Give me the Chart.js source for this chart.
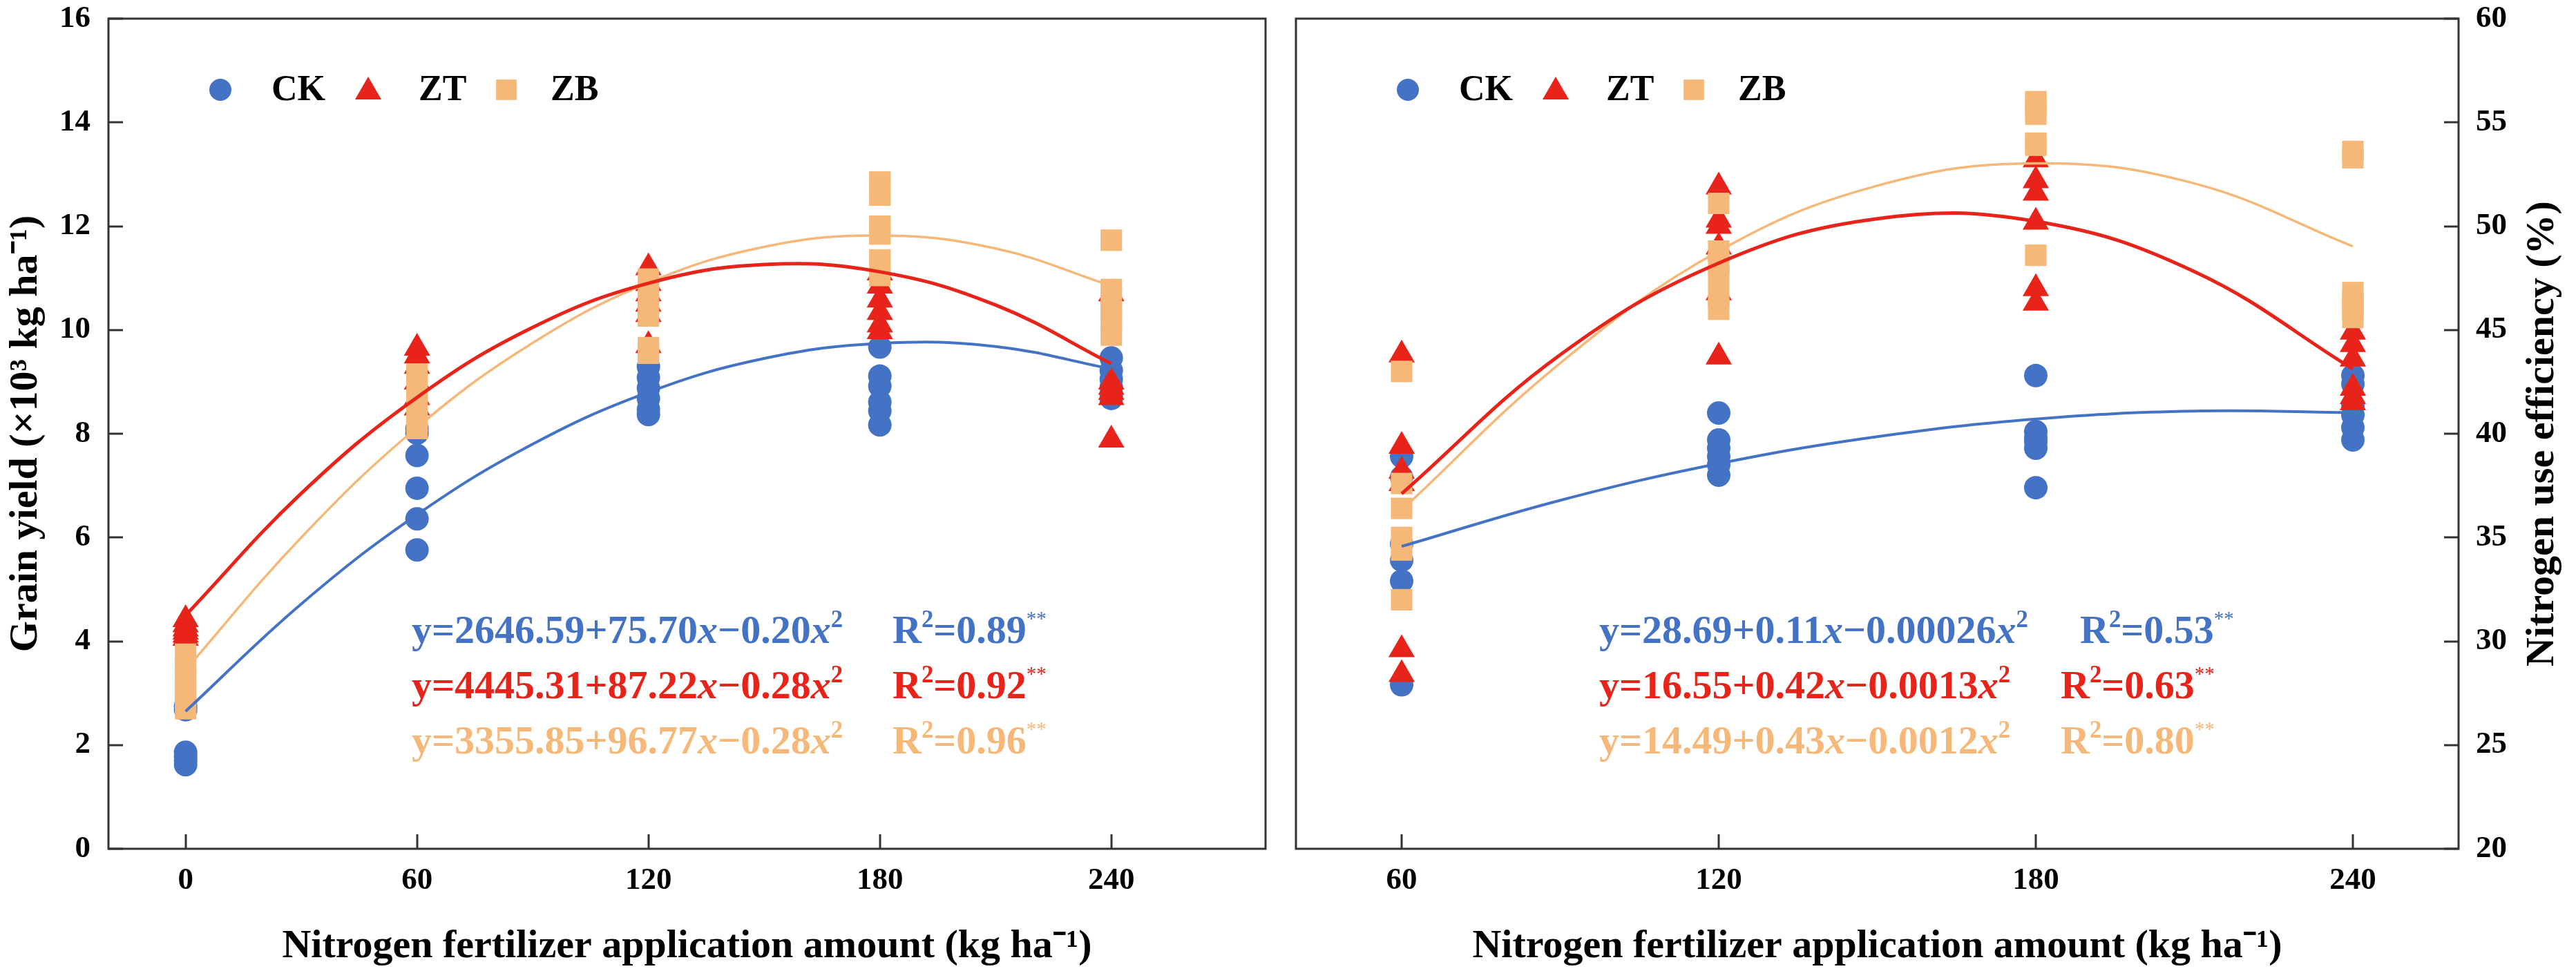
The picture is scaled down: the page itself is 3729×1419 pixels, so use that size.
<!DOCTYPE html>
<html><head><meta charset="utf-8">
<script src="https://cdn.jsdelivr.net/npm/chart.js@4.4.0/dist/chart.umd.min.js"></script>
<style>
html,body{margin:0;padding:0;background:#fff;}
#wrap{position:relative;width:3729px;height:1419px;background:#fff;}
.box{position:absolute;top:0;height:1419px;}
#b1{left:0;width:1854px;}
#b2{left:1854px;width:1875px;}
</style></head><body>
<div id="wrap"><div class="box" id="b1"><canvas id="c1"></canvas></div><div class="box" id="b2"><canvas id="c2"></canvas></div></div>
<script>
// ---------------- DATA ----------------
const treatments = ['CK', 'ZT', 'ZB'];

// Left panel: grain yield (x10^3 kg/ha), six replicates per N rate
const yieldRates = [0, 60, 120, 180, 240];
const yieldCK = [
  [2.75, 2.68, 1.86, 1.78, 1.70, 1.62],
  [8.10, 8.01, 7.58, 6.95, 6.36, 5.76],
  [9.29, 9.08, 8.88, 8.68, 8.47, 8.37],
  [9.67, 9.11, 8.92, 8.61, 8.44, 8.17],
  [9.46, 9.22, 9.05, 8.90, 8.75, 8.68]
];
const yieldZT = [
  [4.42, 4.32, 4.24, 4.18, 4.12, 4.06],
  [9.65, 9.50, 9.30, 9.00, 8.70, 8.50],
  [11.20, 10.90, 10.70, 10.50, 10.30, 9.70],
  [11.10, 10.85, 10.58, 10.34, 10.10, 9.97],
  [10.70, 9.00, 8.90, 8.80, 8.70, 7.88]
];
const yieldZB = [
  [3.75, 3.50, 3.28, 3.05, 2.85, 2.70],
  [9.15, 8.90, 8.65, 8.45, 8.25, 8.10],
  [10.98, 10.71, 10.50, 10.27, 9.66, 9.55],
  [12.85, 12.60, 12.00, 11.85, 11.35, 11.05],
  [11.73, 10.78, 10.58, 10.37, 10.17, 9.90]
];
// fitted curves
const yieldCurveX = [0, 30, 60, 90, 120, 150, 180, 210, 240];
const yieldCurveCK = [2.65, 4.72, 6.44, 7.80, 8.80, 9.45, 9.74, 9.68, 9.25];
const yieldCurveZT = [4.50, 6.85, 8.70, 10.05, 10.90, 11.26, 11.12, 10.48, 9.35];
const yieldCurveZB = [3.45, 6.00, 8.12, 9.75, 10.91, 11.60, 11.82, 11.57, 10.85];

// Right panel: nitrogen use efficiency (%)
const nueRates = [60, 120, 180, 240];
const nueCK = [
  [38.9, 37.9, 34.7, 33.9, 32.9, 27.9],
  [41.0, 39.7, 39.3, 38.9, 38.5, 38.0],
  [42.8, 40.1, 39.8, 39.6, 39.3, 37.4],
  [42.8, 42.4, 41.4, 40.9, 40.3, 39.7]
];
const nueZT = [
  [43.8, 39.4, 38.2, 37.6, 29.6, 28.4],
  [51.9, 50.3, 50.0, 49.0, 46.8, 43.7],
  [53.2, 52.2, 51.6, 50.2, 47.0, 46.3],
  [44.9, 44.3, 43.6, 42.2, 41.8, 41.5]
];
const nueZB = [
  [43.0, 37.6, 36.4, 35.0, 34.4, 32.0],
  [51.1, 48.8, 48.2, 47.6, 46.6, 46.0],
  [56.0, 55.8, 55.4, 54.0, 53.9, 48.6],
  [53.6, 53.3, 46.8, 46.4, 46.0, 45.6]
];
const nueCurveX = [60, 90, 120, 150, 180, 210, 240];
const nueCurveCK = [34.57, 36.79, 38.56, 39.86, 40.71, 41.09, 41.02];
const nueCurveZT = [37.11, 43.80, 48.22, 50.36, 50.23, 47.81, 43.12];
const nueCurveZB = [36.32, 43.40, 48.80, 51.95, 53.03, 52.06, 49.03];

// tick labels
const yieldXTicks = [0, 60, 120, 180, 240];
const yieldYTicks = [0, 2, 4, 6, 8, 10, 12, 14, 16];
const nueXTicks = [60, 120, 180, 240];
const nueYTicks = [20, 25, 30, 35, 40, 45, 50, 55, 60];

// text
const xTitle = 'Nitrogen fertilizer application amount (kg ha\u207B\u00B9)';
const yieldTitle = 'Grain yield (\u00D710\u00B3 kg ha\u207B\u00B9)';
const nueTitle = 'Nitrogen use efficiency (%)';
const yieldEq = [
  { a: 'y=2646.59+75.70', b: '\u22120.20', r: '=0.89' },
  { a: 'y=4445.31+87.22', b: '\u22120.28', r: '=0.92' },
  { a: 'y=3355.85+96.77', b: '\u22120.28', r: '=0.96' }
];
const nueEq = [
  { a: 'y=28.69+0.11', b: '\u22120.00026', r: '=0.53' },
  { a: 'y=16.55+0.42', b: '\u22120.0013', r: '=0.63' },
  { a: 'y=14.49+0.43', b: '\u22120.0012', r: '=0.80' }
];

// ---------------- STYLE ----------------
const FONT = "'Liberation Serif', 'Times New Roman', serif";
const COLORS = ['#4472C4', '#E8231A', '#F6B878'];
const STYLES = ['circle', 'triangle', 'rect'];
const RADII = [17, 22, 22];
const LINEW = [4, 5, 3.5];

function scatterPoints(rates, groups) {
  const out = [];
  rates.forEach((r, i) => groups[i].forEach(v => out.push({ x: r, y: v })));
  return out;
}
function curvePoints(xs, ys) { return xs.map((x, i) => ({ x: x, y: ys[i] })); }

function buildDatasets(rates, groups, cx, curves) {
  const ds = [];
  curves.forEach((c, k) => ds.push({
    type: 'line', label: treatments[k] + ' fit', data: curvePoints(cx, c),
    borderColor: COLORS[k], borderWidth: LINEW[k], pointRadius: 0, tension: 0.4,
    fill: false, order: 0
  }));
  groups.forEach((g, k) => ds.push({
    type: 'scatter', label: treatments[k], data: scatterPoints(rates, g),
    backgroundColor: COLORS[k], borderColor: COLORS[k], pointStyle: STYLES[k],
    pointRadius: RADII[k], pointBorderWidth: 0, order: 3 - k
  }));
  return ds;
}

function drawMarker(ctx, style, r, x, y, color) {
  ctx.fillStyle = color;
  ctx.beginPath();
  if (style === 'circle') ctx.arc(x, y, r, 0, Math.PI * 2);
  else if (style === 'triangle') {
    for (let i = 0; i < 3; i++) {
      const a = i * 2 * Math.PI / 3;
      const px = x + Math.sin(a) * r, py = y - Math.cos(a) * r;
      if (i === 0) ctx.moveTo(px, py); else ctx.lineTo(px, py);
    }
    ctx.closePath();
  } else {
    const s = r * Math.SQRT1_2;
    ctx.rect(x - s, y - s, 2 * s, 2 * s);
  }
  ctx.fill();
}

function drawRich(ctx, x, yc, parts, size, color) {
  ctx.fillStyle = color; ctx.textAlign = 'left'; ctx.textBaseline = 'alphabetic';
  const base = yc + size * 0.33;
  let cx = x;
  parts.forEach(p => {
    let fs = size, dy = 0, st = 'bold';
    if (p.i) st = 'italic bold';
    if (p.sup) { fs = size * 0.6; dy = -size * 0.4; }
    if (p.star) { fs = size * 0.5; dy = -size * 0.45; st = 'normal'; }
    ctx.font = st + ' ' + fs + 'px ' + FONT;
    ctx.fillText(p.t, cx, base + dy);
    cx += ctx.measureText(p.t).width;
  });
}

const decor = {
  id: 'decor',
  afterDraw(chart, args, o) {
    const ctx = chart.ctx, a = chart.chartArea;
    ctx.save();
    ctx.strokeStyle = '#333'; ctx.lineWidth = 3; ctx.lineCap = 'butt';
    const xs = chart.scales.x, ys = chart.scales.y;
    xs.ticks.forEach(t => {
      const px = Math.round(xs.getPixelForValue(t.value));
      ctx.beginPath(); ctx.moveTo(px, a.bottom); ctx.lineTo(px, a.bottom - 21); ctx.stroke();
    });
    ys.ticks.forEach(t => {
      const py = Math.round(ys.getPixelForValue(t.value));
      ctx.beginPath();
      if (ys.position === 'left') { ctx.moveTo(a.left, py); ctx.lineTo(a.left + 21, py); }
      else { ctx.moveTo(a.right, py); ctx.lineTo(a.right - 21, py); }
      ctx.stroke();
    });
    ctx.strokeRect(a.left, a.top, a.right - a.left, a.bottom - a.top);

    // legend
    const ly = a.top + 103;
    const mk = [162, 376, 576], tx = [236, 449, 640];
    treatments.forEach((t, k) => {
      drawMarker(ctx, STYLES[k], k === 1 ? 22 : (k === 2 ? 21 : 16), a.left + mk[k], ly + (k === 1 ? 3 : 0), COLORS[k]);
      ctx.fillStyle = '#000'; ctx.font = 'bold 52px ' + FONT;
      ctx.textAlign = 'left'; ctx.textBaseline = 'middle';
      ctx.fillText(t, a.left + tx[k], ly + 2);
    });

    // equations
    const eqs = o.eqs, rx = o.rx;
    const rows = [885, 965, 1045];
    eqs.forEach((e, k) => {
      const yc = a.top + rows[k];
      drawRich(ctx, a.left + 439, yc, [
        { t: e.a }, { t: 'x', i: 1 }, { t: e.b }, { t: 'x', i: 1 }, { t: '2', sup: 1 }
      ], o.eqSize, COLORS[k]);
      drawRich(ctx, a.left + rx[k], yc, [
        { t: 'R' }, { t: '2', sup: 1 }, { t: e.r }, { t: '**', star: 1 }
      ], o.eqSize, COLORS[k]);
    });

    if (o.rightTitle) {
      ctx.save();
      ctx.translate(o.rightTitleX, (a.top + a.bottom) / 2);
      ctx.rotate(-Math.PI / 2);
      ctx.fillStyle = '#000'; ctx.font = 'bold 58px ' + FONT;
      ctx.textAlign = 'center'; ctx.textBaseline = 'middle';
      ctx.fillText(o.rightTitle, 0, 0);
      ctx.restore();
    }
    ctx.restore();
  }
};

const tickFont = { family: FONT, size: 45, weight: 'bold', lineHeight: 1.2 };
const titleFont = { family: FONT, size: 58, weight: 'bold', lineHeight: 1.2 };

function setTicks(arr) { return function (scale) { scale.ticks = arr.map(v => ({ value: v })); }; }
function noPad(s) { s.paddingTop = 0; s.paddingBottom = 0; s.paddingLeft = 0; s.paddingRight = 0; }

new Chart(document.getElementById('c1'), {
  type: 'scatter',
  data: { datasets: buildDatasets(yieldRates, [yieldCK, yieldZT, yieldZB], yieldCurveX, [yieldCurveCK, yieldCurveZT, yieldCurveZB]) },
  options: {
    responsive: true, maintainAspectRatio: false, animation: false, devicePixelRatio: 1, events: [],
    layout: { padding: { top: 27, right: 20, left: 0, bottom: 0 } },
    plugins: {
      legend: { display: false }, tooltip: { enabled: false },
      decor: { eqs: yieldEq, rx: [1135, 1135, 1135], eqSize: 58 }
    },
    scales: {
      x: {
        type: 'linear', min: -20, max: 280, position: 'bottom',
        afterBuildTicks: setTicks(yieldXTicks),
        afterFit(s) { s.height = 190; noPad(s); },
        grid: { display: false, drawTicks: false }, border: { display: false },
        ticks: { font: tickFont, color: '#000', padding: 19, maxRotation: 0 },
        title: { display: true, text: xTitle, font: titleFont, color: '#000', padding: { top: 0, bottom: 13 } }
      },
      y: {
        type: 'linear', min: 0, max: 16, position: 'left',
        afterBuildTicks: setTicks(yieldYTicks),
        afterFit(s) { s.width = 157; noPad(s); },
        grid: { display: false, drawTicks: false }, border: { display: false },
        ticks: { font: tickFont, color: '#000', padding: 26 },
        title: { display: true, text: yieldTitle, font: titleFont, color: '#000', padding: { top: 3, bottom: 0 } }
      }
    }
  },
  plugins: [decor]
});

new Chart(document.getElementById('c2'), {
  type: 'scatter',
  data: { datasets: buildDatasets(nueRates, [nueCK, nueZT, nueZB], nueCurveX, [nueCurveCK, nueCurveZT, nueCurveZB]) },
  options: {
    responsive: true, maintainAspectRatio: false, animation: false, devicePixelRatio: 1, events: [],
    layout: { padding: { top: 27, right: 0, left: 20, bottom: 0 } },
    plugins: {
      legend: { display: false }, tooltip: { enabled: false },
      decor: { eqs: nueEq, rx: [1135, 1107, 1107], eqSize: 58, rightTitle: nueTitle, rightTitleX: 1827 }
    },
    scales: {
      x: {
        type: 'linear', min: 40, max: 260, position: 'bottom',
        afterBuildTicks: setTicks(nueXTicks),
        afterFit(s) { s.height = 190; noPad(s); },
        grid: { display: false, drawTicks: false }, border: { display: false },
        ticks: { font: tickFont, color: '#000', padding: 19, maxRotation: 0 },
        title: { display: true, text: xTitle, font: titleFont, color: '#000', padding: { top: 0, bottom: 13 } }
      },
      y: {
        type: 'linear', min: 20, max: 60, position: 'right',
        afterBuildTicks: setTicks(nueYTicks),
        afterFit(s) { s.width = 170; noPad(s); },
        grid: { display: false, drawTicks: false }, border: { display: false },
        ticks: { font: tickFont, color: '#000', padding: 25 }
      }
    }
  },
  plugins: [decor]
});
</script>
</body></html>
